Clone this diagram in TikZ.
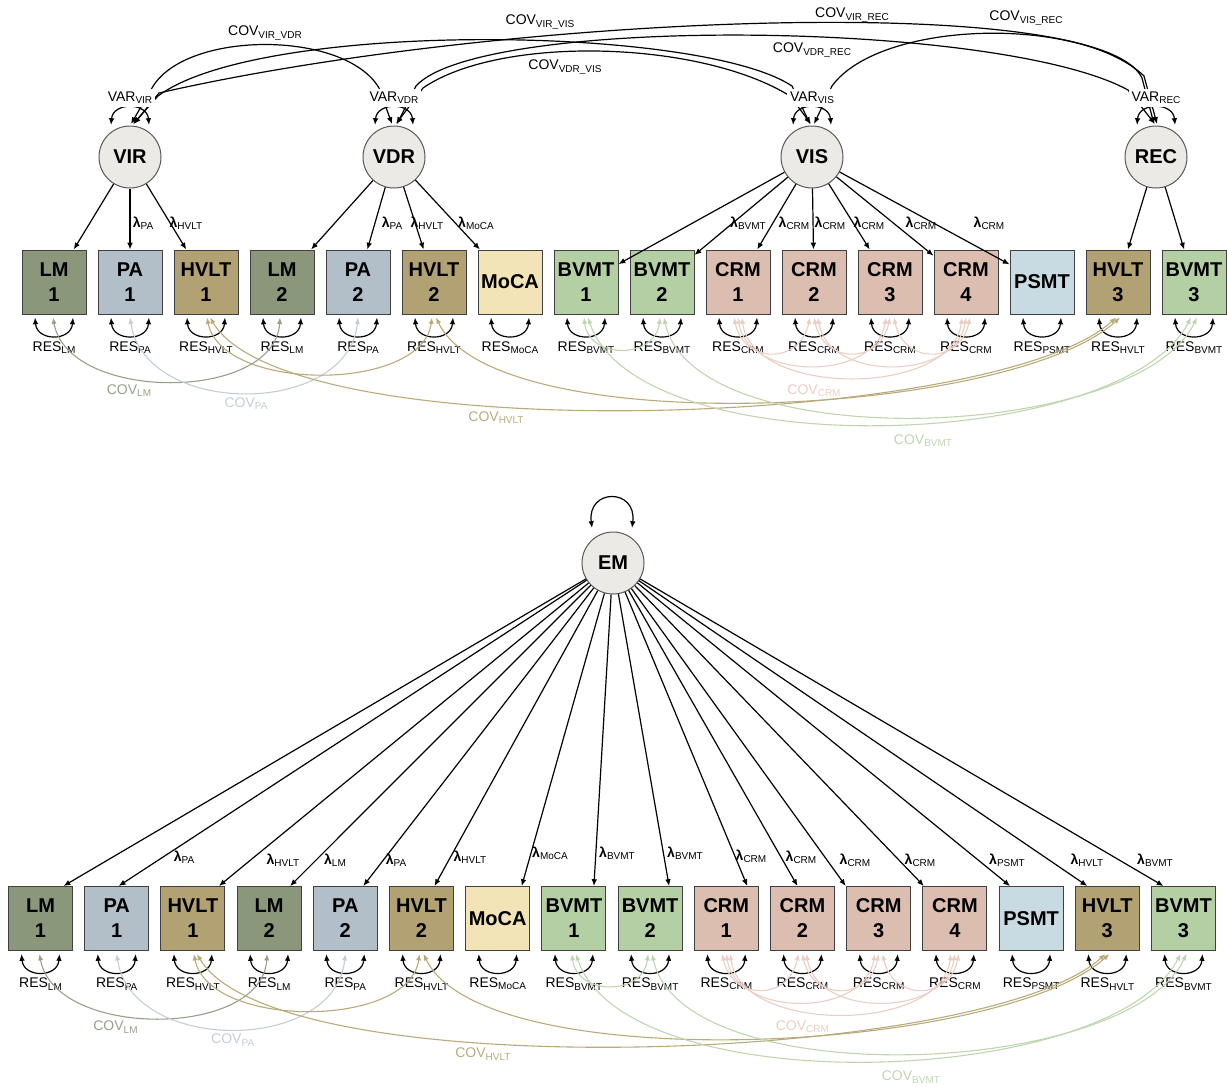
\documentclass[tikz,border=0pt]{standalone}
\usepackage{fontspec}
\setmainfont{Liberation Sans}
\usetikzlibrary{arrows.meta,calc}
\definecolor{lm}{RGB}{138,151,123}
\definecolor{pa}{RGB}{178,191,201}
\definecolor{hvlt}{RGB}{178,161,114}
\definecolor{moca}{RGB}{242,228,182}
\definecolor{bvmt}{RGB}{181,207,164}
\definecolor{crm}{RGB}{219,190,176}
\definecolor{psmt}{RGB}{201,219,226}
\definecolor{latfill}{RGB}{236,234,230}
\definecolor{covlm}{RGB}{150,160,140}
\definecolor{covpa}{RGB}{195,205,215}
\definecolor{covhvlt}{RGB}{186,170,122}
\definecolor{covcrm}{RGB}{234,206,196}
\definecolor{covbvmt}{RGB}{190,214,176}
\newcommand{\sbs}[1]{\raisebox{-0.3ex}{\fontsize{5}{6}\selectfont #1}}
\tikzset{
  obs/.style={draw=black!75, line width=0.5pt, minimum width=32pt, minimum height=32pt,
              inner sep=0pt, align=center, font=\fontsize{10}{12.5}\selectfont\bfseries},
  lat/.style={circle, draw=black!65, fill=latfill, line width=0.5pt, minimum size=31pt,
              inner sep=0pt, font=\fontsize{10}{12}\selectfont\bfseries},
  load/.style={-{Latex[length=3.4pt,width=2.8pt]}, line width=0.6pt},
  dbl/.style={{Latex[length=3.4pt,width=2.8pt]}-{Latex[length=3.4pt,width=2.8pt]}, line width=0.6pt},
  rcov/.style={{Latex[length=3.2pt,width=2.6pt]}-{Latex[length=3.2pt,width=2.6pt]}, line width=0.55pt},
  lab/.style={font=\fontsize{7}{8}\selectfont, inner sep=1pt},
  varlab/.style={lab, fill=white, inner sep=1.5pt},
  lam/.style={font=\fontsize{7}{8}\selectfont, inner sep=0pt},
}
\begin{document}
\begin{tikzpicture}[x=0.5pt,y=0.5pt]
  \useasboundingbox (0,0) rectangle (1227,-1087);

  % latent factors
  \node[lat] (VIR) at (130,-157) {VIR};
  \node[lat] (VDR) at (394,-157) {VDR};
  \node[lat] (VIS) at (812,-157) {VIS};
  \node[lat] (REC) at (1156,-157) {REC};
  \node[lat] (EM)  at (613,-563) {EM};

  % indicators with residual variances, both models
  \foreach \p/\xo/\sp/\yo in {t/54/76.0/-282, b/40.5/76.2/-918.5}{
    \foreach \txt/\col/\res [count=\i] in {LM\\1/lm/LM, PA\\1/pa/PA, HVLT\\1/hvlt/HVLT,
        LM\\2/lm/LM, PA\\2/pa/PA, HVLT\\2/hvlt/HVLT, MoCA/moca/MoCA, BVMT\\1/bvmt/BVMT,
        BVMT\\2/bvmt/BVMT, CRM\\1/crm/CRM, CRM\\2/crm/CRM, CRM\\3/crm/CRM, CRM\\4/crm/CRM,
        PSMT/psmt/PSMT, HVLT\\3/hvlt/HVLT, BVMT\\3/bvmt/BVMT}{
      \node[obs, fill=\col] (\p\i) at ({\xo+\sp*(\i-1)},\yo) {\txt};
      \draw[dbl] ($(\p\i.south)+(-19,-3)$) .. controls +(2,-24) and +(-2,-24) .. ($(\p\i.south)+(19,-3)$);
      \node[lab] (\p r\i) at ($(\p\i.south)+(0,-33)$) {RES\sbs{\res}};
    }
  }

  % residual covariances
  \foreach \p in {t,b}{
    \draw[rcov, covlm] ($(\p1.south)+(-1,-3)$) .. controls +(15,-85) and +(-5,-85) .. ($(\p4.south)+(-2,-3)$);
    \draw[rcov, covpa] ($(\p2.south)+(0,-3)$) .. controls +(15,-100) and +(-10,-100) .. ($(\p5.south)+(0,-3)$);
    \draw[rcov, covhvlt] ($(\p3.south)+(1,-3)$) .. controls +(15,-75) and +(-10,-75) .. ($(\p6.south)+(-2,-3)$);
    \draw[rcov, covhvlt] ($(\p3.south)+(4,-3)$) .. controls +(80,-135) and +(-120,-110) .. ($(\p15.south)+(-2,-3)$);
    \draw[rcov, covhvlt] ($(\p6.south)+(2,-3)$) .. controls +(60,-125) and +(-110,-100) .. ($(\p15.south)+(2,-3)$);
    \foreach \a/\b/\oa/\ob/\d in {10/11/-4/-4/47, 10/12/0/-4/64, 10/13/4/-4/80,
                                  11/12/0/0/47, 11/13/4/0/64, 12/13/4/4/47}
      \draw[rcov, covcrm] ($(\p\a.south)+(\oa,-3)$) .. controls +(10,-\d) and +(-10,-\d) .. ($(\p\b.south)+(\ob,-3)$);
    \draw[rcov, covbvmt] ($(\p8.south)+(-2,-3)$) .. controls +(5,-42) and +(-5,-42) .. ($(\p9.south)+(-2,-3)$);
    \draw[rcov, covbvmt] ($(\p8.south)+(2,-3)$) .. controls +(50,-150) and +(-70,-135) .. ($(\p16.south)+(-3,-3)$);
    \draw[rcov, covbvmt] ($(\p9.south)+(2,-3)$) .. controls +(30,-140) and +(-60,-125) .. ($(\p16.south)+(3,-3)$);
    \node[lab, text=covlm]   (\p cLM)   at ($(\p1.south)+(75,-76)$)   {COV\sbs{LM}};
    \node[lab, text=covpa]   (\p cPA)   at ($(\p2.south)+(116,-89)$)  {COV\sbs{PA}};
    \node[lab, text=covhvlt] (\p cHVLT) at ($(\p3.south)+(290,-103)$) {COV\sbs{HVLT}};
    \node[lab, text=covcrm]  (\p cCRM)  at ($(\p10.south)+(76,-76)$)  {COV\sbs{CRM}};
    \node[lab, text=covbvmt] (\p cBVMT) at ($(\p8.south)+(337,-126)$) {COV\sbs{BVMT}};
  }

  % loadings, four factor model
  \foreach \b in {1,2,3} \draw[load] (VIR) -- (t\b);
  \foreach \b in {4,...,7} \draw[load] (VDR) -- (t\b);
  \foreach \b in {8,...,14} \draw[load] (VIS) -- (t\b);
  \foreach \b in {15,16} \draw[load] (REC) -- (t\b);
  \foreach \x/\s [count=\k] in {143/PA, 186/HVLT, 392/PA, 427/HVLT, 476/MoCA, 748/BVMT,
                                794/CRM, 830/CRM, 869/CRM, 921/CRM, 989/CRM}
    \node[lam] (tl\k) at (\x,-223) {\textbf{λ}\sbs{\s}};

  % factor covariances
  \draw[dbl] ($(VIR)+(1,33)$) -- ($(VIR)+(22,69)$) .. controls ($(VIR)+(55,127)$) and ($(VDR)+(-49,127)$) .. ($(VDR)+(-15,69)$) -- ($(VDR)+(-2,33)$);
  \draw[dbl] ($(VIR)+(3,33)$) -- ($(VIR)+(28,61)$) .. controls ($(VIR)+(130,137)$) and ($(VIS)+(-112,132)$) .. ($(VIS)+(-20,71)$) -- ($(VIS)+(-2,33)$);
  \draw[dbl] ($(VIR)+(4,33)$) -- ($(VIR)+(29,64)$) .. controls ($(VIR)+(370,142)$) and ($(REC)+(-56,167)$) .. ($(REC)+(-14,79)$) -- ($(REC)+(-2,33)$);
  \draw[dbl] ($(VDR)+(2,33)$) -- ($(VDR)+(29,69)$) .. controls ($(VDR)+(106,122)$) and ($(VIS)+(-112,117)$) .. ($(VIS)+(-22,61)$) -- ($(VIS)+(-1,33)$);
  \draw[dbl] ($(VDR)+(3,33)$) -- ($(VDR)+(22,71)$) .. controls ($(VDR)+(86,142)$) and ($(REC)+(-156,137)$) .. ($(REC)+(-28,67)$) -- ($(REC)+(-1,33)$);
  \draw[dbl] ($(VIS)+(2,33)$) -- ($(VIS)+(20,71)$) .. controls ($(VIS)+(68,137)$) and ($(REC)+(-76,142)$) .. ($(REC)+(-12,81)$) -- ($(REC)+(1,33)$);

  \node[lab] (cVIRVDR) at (265,-33) {COV\sbs{VIR\_VDR}};
  \node[lab] (cVIRVIS) at (540,-22) {COV\sbs{VIR\_VIS}};
  \node[lab] (cVDRVIS) at (565,-67) {COV\sbs{VDR\_VIS}};
  \node[lab] (cVIRREC) at (852,-15) {COV\sbs{VIR\_REC}};
  \node[lab] (cVDRREC) at (812,-50) {COV\sbs{VDR\_REC}};
  \node[lab] (cVISREC) at (1026,-18) {COV\sbs{VIS\_REC}};

  % factor variances
  \foreach \f in {VIR,VDR,VIS,REC}{
    \draw[dbl] ($(\f)+(-19,32)$) .. controls +(2,23) and +(-2,23) .. ($(\f)+(19,32)$);
    \node[varlab] (var\f) at ($(\f)+(0,59)$) {VAR\sbs{\f}};
  }

  % one factor model
  \draw[dbl] ($(EM)+(-21,35)$) .. controls +(-5,40) and +(5,40) .. ($(EM)+(19,35)$);
  \foreach \b/\dx in {1/23, 2/2, 3/26, 4/21, 5/18, 6/13, 7/24, 8/20, 9/19, 10/21,
                      11/-5, 12/-33, 13/-31, 14/-21, 15/-20, 16/-20}
    \draw[load] (EM) -- ($(b\b.north)+(\dx,0)$);
  \foreach \x/\y/\s [count=\k] in {184/857/PA, 283/860/HVLT, 335/860/LM, 396/860/PA,
      470/857/HVLT, 550/853/MoCA, 617/853/BVMT, 685/853/BVMT, 751/856/CRM, 801/857/CRM,
      855/860/CRM, 920/860/CRM, 1007/860/PSMT, 1087/860/HVLT, 1155/860/BVMT}
    \node[lam] (bl\k) at (\x,-\y) {\textbf{λ}\sbs{\s}};
\end{tikzpicture}
\end{document}
